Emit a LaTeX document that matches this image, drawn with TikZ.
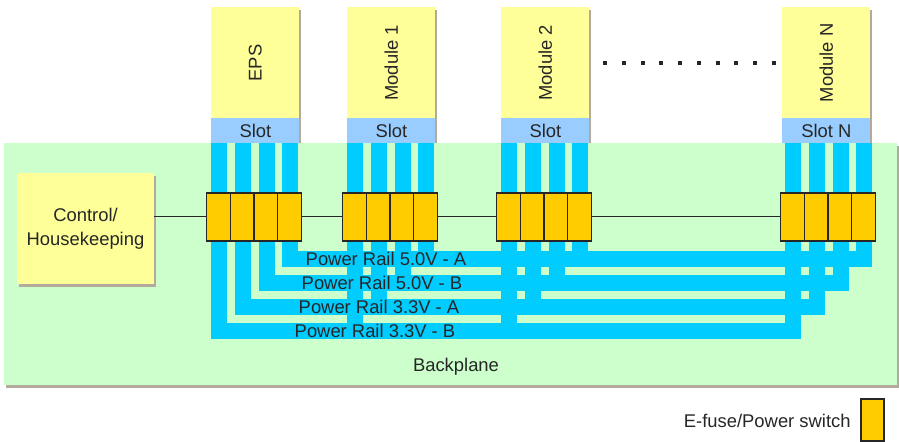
\documentclass[tikz,border=0pt]{standalone}
\usepackage{fontspec}
\setmainfont{Liberation Sans}
\usetikzlibrary{shadows}

\definecolor{bpgreen}{HTML}{CCFFCC}
\definecolor{cardyellow}{HTML}{FFFF99}
\definecolor{slotblue}{HTML}{99CCFF}
\definecolor{railcyan}{HTML}{00CCFF}
\definecolor{fuseorange}{HTML}{FFCC00}
\definecolor{shadowgray}{RGB}{180,170,155}

\begin{document}
\begin{tikzpicture}[x=0.5pt,y=-0.5pt,
    lbl/.style={font=\fontsize{9.2}{12}\selectfont, text=black!85, inner sep=0pt},
    boxshadow/.style={drop shadow={shadow xshift=1pt, shadow yshift=-1.5pt,
                      fill=shadowgray, opacity=1}},
    card/.style={fill=cardyellow, minimum width=44pt, minimum height=55.5pt,
                 anchor=north west, inner sep=0pt, boxshadow},
    slotbox/.style={lbl, fill=slotblue, minimum width=44pt, minimum height=12.5pt,
                    anchor=north west, boxshadow},
    fuse/.style={draw=black!85, line width=0.6pt, fill=fuseorange,
                 minimum width=11.875pt, minimum height=24pt, inner sep=0pt},
    rail/.style={fill=railcyan},
    wire/.style={draw=black!85, line width=0.5pt}
]
\useasboundingbox (0,0) rectangle (899,442);

% Module cards and slots
\foreach \n/\c/\t/\sl in {eps/211/EPS/Slot, m1/347/Module 1/Slot,
                          m2/501/Module 2/Slot, mN/782/Module N/Slot N}{
    \node[card] (\n) at (\c,7) {};
    \node[lbl, rotate=90] (\n-txt) at (\n.center) {\t};
    \node[slotbox] (\n-slot) at (\c,118) {\sl};
}

% Dots
\foreach \i in {0,...,9}{
    \fill[black!85] (603+18.78*\i,61) rectangle ++(4,4);
}

% Backplane
\node[fill=bpgreen, minimum width=446.5pt, minimum height=121pt,
      anchor=north west, inner sep=0pt, boxshadow] (bp) at (4,143) {};
\node[lbl] (bp-txt) at (456,367) {Backplane};

% Strips from slots
\foreach \s in {211,347,501,785}{
    \foreach \o/\b in {0/339,24/315,48/291,71/267}{
        \fill[rail] (\s+\o,143) rectangle (\s+\o+15.5,\b);
    }
}

% Power rails
\fill[rail] (282,251) rectangle (871.5,267);
\fill[rail] (259,275) rectangle (848.5,291);
\fill[rail] (235,299) rectangle (824.5,315);
\fill[rail] (211,323) rectangle (800.5,339);

\node[lbl] (rail5a) at (386,259) {Power Rail 5.0V - A};
\node[lbl] (rail5b) at (382,283) {Power Rail 5.0V - B};
\node[lbl] (rail3a) at (379,307) {Power Rail 3.3V - A};
\node[lbl] (rail3b) at (375,331) {Power Rail 3.3V - B};

% Control
\node[lbl, fill=cardyellow, minimum width=68.5pt, minimum height=55.5pt,
      align=center, boxshadow] (ctrl) at (85.5,228.5) {Control/\\Housekeeping};

% E-fuses
\foreach \n/\s in {eps/211,m1/347,m2/501,mN/785}{
    \foreach \k in {1,...,4}{
        \node[fuse] (\n-\k) at (\s-4.5+23.75*\k-11.875,217) {};
    }
}

\draw[wire] (eps-1.west) -- (eps-1.west -| ctrl.east);
\draw[wire] (eps-4.east) -- (m1-1.west);
\draw[wire] (m1-4.east) -- (m2-1.west);
\draw[wire] (m2-4.east) -- (mN-1.west);

% Legend
\node[fuse, minimum width=11.5pt, minimum height=21pt] (legend) at (872.5,420) {};
\node[lbl, anchor=east] (legend-txt) at (851,421) {E-fuse/Power switch};

\end{tikzpicture}
\end{document}
